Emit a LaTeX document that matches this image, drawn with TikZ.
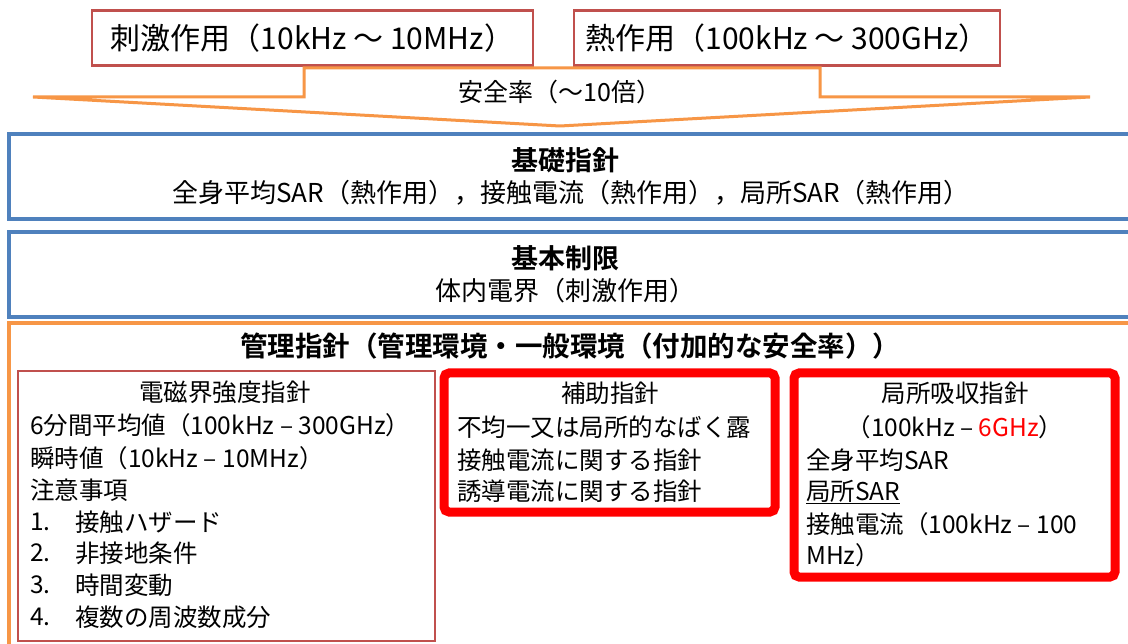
\documentclass[tikz,border=0pt]{standalone}
\usepackage{fontspec}
\setmainfont{Noto Sans CJK JP}[BoldFont={Noto Sans CJK JP Bold}]
\definecolor{effred}{HTML}{C0504D}
\definecolor{bandblue}{HTML}{4F81BD}
\definecolor{safeorange}{HTML}{F79646}
\definecolor{alertred}{HTML}{FF0000}

\tikzstyle{effect box}=[draw=effred,line width=2.5pt,minimum height=55pt,font=\fontsize{30}{34}\selectfont]
\tikzstyle{factor arrow}=[draw=safeorange,line width=3pt,fill=white]
\tikzstyle{band}=[draw=bandblue,line width=3.5pt]
\tikzstyle{band text}=[font=\fontsize{26}{30}\selectfont]
\tikzstyle{band title}=[font=\fontsize{27}{30}\selectfont\bfseries]
\tikzstyle{field box}=[draw=effred,line width=2.5pt]
\tikzstyle{guide box}=[draw=alertred,line width=9pt,rounded corners=5pt]
\tikzstyle{guide title}=[font=\fontsize{24.5}{28}\selectfont]
\tikzstyle{guide line}=[guide title,anchor=west,inner sep=0pt]

\begin{document}
\begin{tikzpicture}[x=1pt,y=-1pt]
    \clip (0,0) rectangle (1128,644);
    \fill[white] (0,0) rectangle (1128,644);
    % Draw the two effects on top
    \node[effect box,minimum width=441pt] (stim) at (312.5,38) {刺激作用（10kHz ～ 10MHz）};
    \node[effect box,minimum width=426pt] (heat) at (787,38) {熱作用（100kHz ～ 300GHz）};
    % Safety factor arrow
    \path[factor arrow] (33,97) -- (304,97) -- (304,68) -- (820,68) -- (820,97)
        -- (1090,97) -- (560,126) -- cycle;
    \node[band text,font=\fontsize{25}{30}\selectfont] (factor) at (560,92) {安全率（～10倍）};
    % Then the bands
    \foreach \top/\bottom in {134/219,232/317}
    \draw[band] (9,\top) rectangle (1140,\bottom);
    \draw[safeorange,line width=3.5pt] (9,323) rectangle (1140,660);
    \node[band title] (basic) at (565,160) {基礎指針};
    \node[band text] (basicsar) at (571,193) {全身平均SAR（熱作用），接触電流（熱作用），局所SAR（熱作用）};
    \node[band title] (restrict) at (565,258) {基本制限};
    \node[band text] (efield) at (565,291) {体内電界（刺激作用）};
    \node[band title,font=\fontsize{27.5}{30}\selectfont\bfseries] (mgmt) at (570,346)
        {管理指針（管理環境・一般環境（付加的な安全率））};
    % Guideline boxes
    \draw[field box] (18,371) rectangle (435,641);
    \draw[guide box] (444,373) rectangle (775,512);
    \draw[guide box] (794,373) rectangle (1115,577);
    % Field strength guideline
    \node[guide title] (field) at (225,392) {電磁界強度指針};
    \foreach \y/\name/\txt in {425/avg/6分間平均値（100kHz – 300GHz）,
        458/inst/瞬時値（10kHz – 10MHz）,490/note/注意事項}
    \node[guide line] (\name) at (30,\y) {\txt};
    \foreach \y/\num/\txt in {522/1/接触ハザード,553/2/非接地条件,585/3/時間変動,617/4/複数の周波数成分}
    {
        \node[guide line] (num\num) at (30,\y) {\num.};
        \node[guide line] (item\num) at (75,\y) {\txt};
    }
    % Auxiliary guideline
    \node[guide title] (aux) at (610,393) {補助指針};
    \foreach \y/\name/\txt in {427/nonuni/不均一又は局所的なばく露,
        460/contact/接触電流に関する指針,491/induced/誘導電流に関する指針}
    \node[guide line] (\name) at (457,\y) {\txt};
    % Local absorption guideline
    \node[guide title] (local) at (955,393) {局所吸収指針};
    \node[guide title] (range) at (955,427) {（100kHz – {\color{alertred}6GHz}）};
    \foreach \y/\name/\txt in {460/wholesar/全身平均SAR,492/localsar/\underline{局所SAR},
        524/touch/接触電流（100kHz – 100,555/touchmhz/MHz）}
    \node[guide line] (\name) at (806,\y) {\txt};
\end{tikzpicture}
\end{document}
